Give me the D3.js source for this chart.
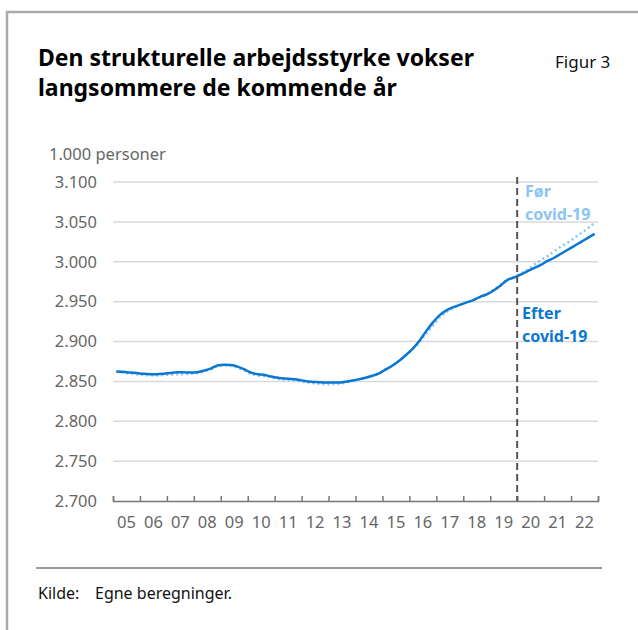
<!DOCTYPE html>
<html>
<head>
<meta charset="utf-8">
<script src="https://cdn.jsdelivr.net/npm/d3@7/dist/d3.min.js"></script>
<style>
  body { margin: 0; background: #fff; }
  text { font-family: "Noto Sans", sans-serif; }
</style>
</head>
<body>
<div id="chart"></div>
<script>
// quarterly values, 1.000 personer, 2005K1 .. 2022K4
var years = d3.range(2005, 2023);
var yTicks = [2700, 2750, 2800, 2850, 2900, 2950, 3000, 3050, 3100];

var efter = [
  2862.5, 2862, 2861, 2860.5,
  2859.5, 2859, 2859, 2859.5,
  2860.5, 2861.5, 2861.5, 2861,
  2861.5, 2863.5, 2866, 2870,
  2871, 2870.5, 2868.5, 2865,
  2861, 2859, 2858, 2856,
  2854.5, 2853.5, 2853, 2852,
  2850.5, 2849.5, 2849, 2848.5,
  2848.5, 2848.5, 2849.5, 2851,
  2852.5, 2854.5, 2857, 2860,
  2865, 2870, 2876, 2883,
  2891, 2901, 2913, 2924,
  2933, 2939, 2943, 2946,
  2949, 2952, 2956, 2959,
  2964, 2970, 2977, 2980,
  2984, 2988, 2992, 2996,
  3001, 3005, 3010, 3015,
  3020, 3025, 3030, 3035
];

var foer = [
  2862, 2861, 2860, 2859,
  2858, 2857.5, 2857.5, 2858,
  2858.5, 2859, 2859, 2859.5,
  2860.5, 2862.5, 2865, 2869,
  2870, 2869.5, 2867, 2863.5,
  2859.5, 2857.5, 2856.5, 2855,
  2853, 2852, 2851.5, 2850.5,
  2849, 2848, 2847, 2846.5,
  2846.5, 2847, 2848.5, 2850.5,
  2852.5, 2854.5, 2857, 2860,
  2865, 2870, 2876, 2883,
  2891, 2899, 2910, 2920,
  2930, 2937, 2942, 2946,
  2949, 2952, 2956, 2960,
  2965, 2971, 2977, 2981,
  2985, 2990, 2996, 3002,
  3007, 3013, 3019, 3024,
  3030, 3036, 3042, 3049
];

var w = 638, h = 630;

var svg = d3.select("#chart").append("svg")
  .attr("width", w)
  .attr("height", h);

// frame
svg.append("path")
  .attr("d", "M7,630 V12 H638")
  .attr("fill", "none")
  .attr("stroke", "#aaa")
  .attr("stroke-width", 2.5);

svg.append("text").attr("x", 38).attr("y", 66)
  .attr("font-size", 23).attr("font-weight", "bold").attr("fill", "#000")
  .text("Den strukturelle arbejdsstyrke vokser");
svg.append("text").attr("x", 38).attr("y", 96)
  .attr("font-size", 23).attr("font-weight", "bold").attr("fill", "#000")
  .text("langsommere de kommende år");
svg.append("text").attr("x", 555).attr("y", 68)
  .attr("font-size", 17).attr("fill", "#111")
  .text("Figur 3");

svg.append("text").attr("x", 49).attr("y", 160)
  .attr("font-size", 16.5).attr("fill", "#666")
  .text("1.000 personer");

var x = d3.scaleLinear().domain([2005, 2023]).range([113, 598]);
var y = d3.scaleLinear().domain([2700, 3100]).range([501, 182]);

// gridlines
svg.append("g").selectAll("line")
  .data(yTicks.slice(1))
  .enter().append("line")
  .attr("x1", 113).attr("x2", 598)
  .attr("y1", function(d){ return y(d); })
  .attr("y2", function(d){ return y(d); })
  .attr("stroke", "#d9d9d9")
  .attr("stroke-width", 1.5);

// y axis labels
var yAxis = svg.append("g")
  .attr("transform", "translate(113,0)")
  .call(d3.axisLeft(y).tickValues(yTicks).tickSize(0).tickPadding(16)
        .tickFormat(function(d){ return d3.format(",")(d).replace(",", "."); }));
yAxis.select(".domain").remove();
yAxis.selectAll("text").attr("font-size", 16.5).attr("fill", "#666")
  .attr("font-family", "'Noto Sans', sans-serif");

// x axis with ticks at year boundaries and labels in between
var xAxis = svg.append("g")
  .attr("transform", "translate(0,501)")
  .call(d3.axisBottom(x).tickValues(d3.range(2005, 2024)).tickSize(-5).tickFormat(""));
xAxis.select(".domain").attr("stroke", "#777").attr("stroke-width", 1.5);
xAxis.selectAll(".tick line").attr("stroke", "#777").attr("stroke-width", 1.5);

svg.append("g").selectAll("text")
  .data(years)
  .enter().append("text")
  .attr("x", function(d){ return x(d + 0.5); })
  .attr("y", 528)
  .attr("text-anchor", "middle")
  .attr("font-size", 16.5).attr("fill", "#666")
  .text(function(d){ return String(d).slice(2); });

// lines
var line = d3.line()
  .x(function(d, i){ return x(2005 + (i + 0.5) / 4); })
  .y(function(d){ return y(d); })
  .curve(d3.curveMonotoneX);

svg.append("path")
  .datum(foer)
  .attr("d", line)
  .attr("fill", "none")
  .attr("stroke", "#8cc4f2")
  .attr("stroke-width", 2.5)
  .attr("stroke-dasharray", "2,3");

svg.append("path")
  .datum(efter)
  .attr("d", line)
  .attr("fill", "none")
  .attr("stroke", "#0a78d2")
  .attr("stroke-width", 2.5);

// covid divider
svg.append("line")
  .attr("x1", x(2020)).attr("x2", x(2020))
  .attr("y1", 177).attr("y2", 501)
  .attr("stroke", "#555").attr("stroke-width", 2)
  .attr("stroke-dasharray", "7,4");

svg.append("text").attr("x", 525).attr("y", 197)
  .attr("font-size", 16).attr("font-weight", "bold").attr("fill", "#8cc4f2")
  .text("Før");
svg.append("text").attr("x", 525).attr("y", 220)
  .attr("font-size", 16).attr("font-weight", "bold").attr("fill", "#8cc4f2")
  .text("covid-19");
svg.append("text").attr("x", 522).attr("y", 319)
  .attr("font-size", 16).attr("font-weight", "bold").attr("fill", "#0a78d2")
  .text("Efter");
svg.append("text").attr("x", 522).attr("y", 342)
  .attr("font-size", 16).attr("font-weight", "bold").attr("fill", "#0a78d2")
  .text("covid-19");

// source
svg.append("line")
  .attr("x1", 36).attr("x2", 602)
  .attr("y1", 568).attr("y2", 568)
  .attr("stroke", "#999").attr("stroke-width", 2);
svg.append("text").attr("x", 38).attr("y", 599)
  .attr("font-size", 16).attr("fill", "#111").text("Kilde:");
svg.append("text").attr("x", 95).attr("y", 599)
  .attr("font-size", 16).attr("fill", "#111").text("Egne beregninger.");
</script>
</body>
</html>
